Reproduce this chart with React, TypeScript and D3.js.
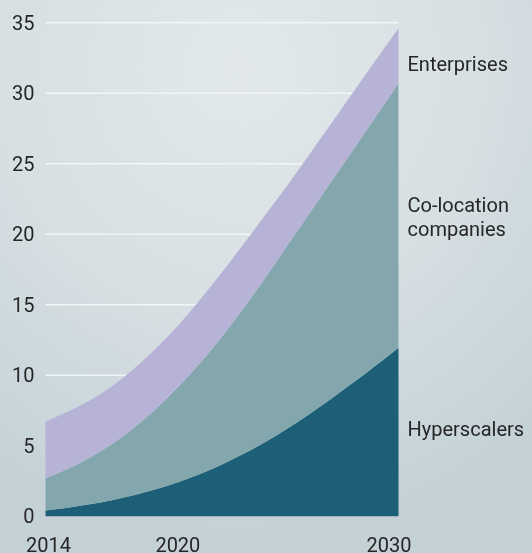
import React from "react";
import * as d3 from "d3";

const years = [2014, 2015, 2016, 2017, 2018, 2019, 2020, 2021, 2022, 2023, 2024, 2025, 2026, 2027, 2028, 2029, 2030];
const hyperscalers = [0.4, 0.6, 0.85, 1.14, 1.49, 1.91, 2.41, 2.99, 3.67, 4.44, 5.3, 6.26, 7.29, 8.39, 9.53, 10.72, 11.95];
const colocation = [2.3, 2.75, 3.3, 3.96, 4.76, 5.69, 6.74, 7.86, 9.08, 10.36, 11.7, 13.02, 14.27, 15.45, 16.59, 17.68, 18.75];
const enterprises = [4.0, 4.05, 4.05, 4.1, 4.2, 4.3, 4.35, 4.5, 4.55, 4.55, 4.45, 4.27, 4.19, 4.11, 4.08, 4.0, 3.9];
const seriesKeys = ["hyperscalers", "colocation", "enterprises"];
const seriesLabels = [["Hyperscalers"], ["Co-location", "companies"], ["Enterprises"]];
const seriesColors = ["#1c5f77", "#84a7ae", "#b6b3d7"];
const yTicks = [0, 5, 10, 15, 20, 25, 30, 35];
const xTicks = [2014, 2020, 2030];

const W = 532;
const H = 553;

export default function App() {
  const x = d3.scaleLinear().domain([2014, 2030]).range([45.5, 398.5]);
  const y = d3.scaleLinear().domain([0, 35]).range([516.2, 22.7]);

  const rows = years.map((yr, i) => ({
    year: yr,
    hyperscalers: hyperscalers[i],
    colocation: colocation[i],
    enterprises: enterprises[i],
  }));
  const stacked = d3.stack<any>().keys(seriesKeys)(rows);
  const area = d3
    .area<any>()
    .x((d) => x(d.data.year))
    .y0((d) => y(d[0]))
    .y1((d) => y(d[1]))
    .curve(d3.curveMonotoneX);

  const font = "Roboto, 'Noto Sans', sans-serif";
  const labelDy = [-2.5, -11, 8];
  const xLabelDx: Record<number, number> = { 2014: 3, 2020: 0, 2030: -9.5 };

  return (
    <svg
      width={W}
      height={H}
      style={{ position: "fixed", left: 0, top: 0, display: "block" }}
      fontFamily={font}
    >
      <defs>
        <radialGradient id="bg" cx="0.45" cy="0.12" r="0.85">
          <stop offset="0" stopColor="#e3e9eb" />
          <stop offset="0.55" stopColor="#d6dfe2" />
          <stop offset="1" stopColor="#c4d2d8" />
        </radialGradient>
      </defs>
      <rect x={0} y={0} width={W} height={H} fill="url(#bg)" />
      {yTicks
        .filter((t) => t > 0)
        .map((t) => (
          <line
            key={t}
            x1={x(2014)}
            x2={x(2030)}
            y1={y(t)}
            y2={y(t)}
            stroke="#f4f7f8"
            strokeWidth={1.5}
            strokeOpacity={0.9}
          />
        ))}
      {stacked.map((s, i) => (
        <path key={s.key} d={area(s) || ""} fill={seriesColors[i]} />
      ))}
      {yTicks.map((t) => (
        <text
          key={t}
          x={x(2014) - 11}
          y={y(t)}
          dy="0.35em"
          textAnchor="end"
          fontSize={20}
          fill="#262626"
        >
          {t}
        </text>
      ))}
      {xTicks.map((t) => (
        <text
          key={t}
          x={x(t) + xLabelDx[t]}
          y={551.5}
          textAnchor="middle"
          fontSize={20}
          fill="#262626"
        >
          {t}
        </text>
      ))}
      {stacked.map((s, i) => {
        const last = s[s.length - 1];
        const mid = y((last[0] + last[1]) / 2);
        const lines = seriesLabels[i];
        return (
          <text
            key={s.key}
            x={x(2030) + 9}
            y={mid + labelDy[i]}
            fontSize={20}
            fill="#262626"
          >
            {lines.map((ln, j) => (
              <tspan key={j} x={x(2030) + 9} dy={j === 0 ? "0.35em" : 24.5}>
                {ln}
              </tspan>
            ))}
          </text>
        );
      })}
    </svg>
  );
}
